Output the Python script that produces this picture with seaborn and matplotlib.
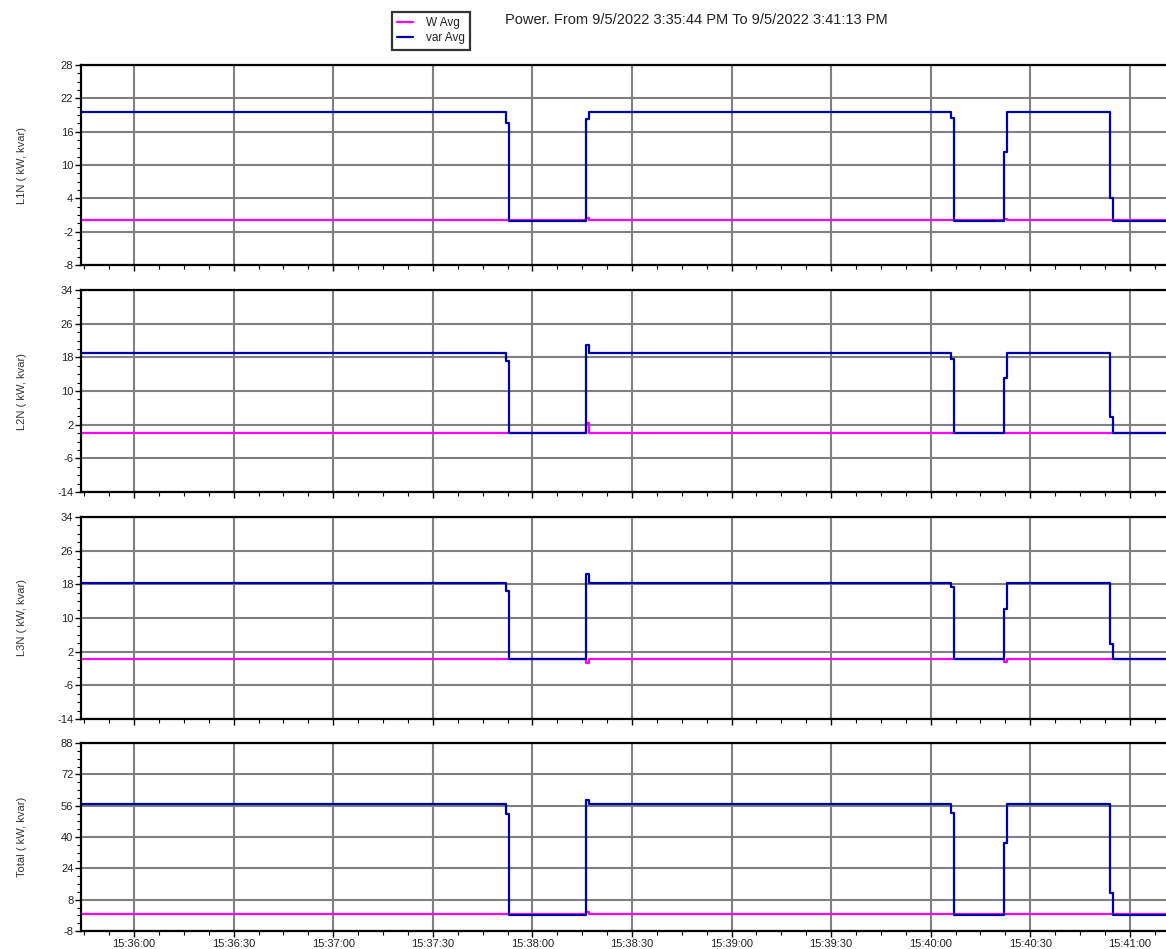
import matplotlib
matplotlib.use("Agg")
import matplotlib.pyplot as plt
import matplotlib.dates as mdates
from matplotlib.ticker import MultipleLocator, FixedLocator
import numpy as np
import pandas as pd
import seaborn as sns

# Sample times where the readings change (held until the next sample)
times = ["15:35:44", "15:37:52", "15:37:53", "15:38:16", "15:38:17", "15:40:06",
         "15:40:07", "15:40:22", "15:40:23", "15:40:54", "15:40:55", "15:41:13"]

# Reactive power (kvar) per phase and total
var_l1 = [19.5, 17.5, 0.0, 18.3, 19.5, 18.5, 0.0, 12.4, 19.5, 4.0, 0.0, 0.0]
var_l2 = [19.1, 17.2, 0.0, 20.9, 19.1, 17.5, 0.0, 13.1, 19.1, 3.8, 0.0, 0.0]
var_l3 = [18.4, 16.4, 0.2, 20.5, 18.4, 17.4, 0.2, 12.1, 18.4, 3.8, 0.2, 0.2]
var_tot = [56.8, 51.6, 0.0, 58.9, 57.0, 52.5, 0.0, 36.9, 57.0, 11.4, 0.0, 0.0]

# Active power (kW) per phase and total
w_l1 = [0.1, 0.1, 0.1, 0.4, 0.1, 0.1, 0.1, 0.3, 0.1, 0.1, 0.1, 0.1]
w_l2 = [0.0, 0.0, 0.0, 2.5, 0.0, 0.0, 0.0, 0.0, 0.0, 0.0, 0.0, 0.0]
w_l3 = [0.2, 0.2, 0.2, -0.8, 0.2, 0.2, 0.2, -0.4, 0.2, 0.2, 0.2, 0.2]
w_tot = [0.5, 0.5, 0.5, 1.9, 0.5, 0.5, 0.5, 0.5, 0.5, 0.5, 0.5, 0.5]

panel_names = ["L1N", "L2N", "L3N", "Total"]
series_labels = ["W Avg", "var Avg"]
y_limits = [(-8, 28), (-14, 34), (-14, 34), (-8, 88)]
y_steps = [6, 8, 8, 16]

title_text = "Power. From 9/5/2022 3:35:44 PM To 9/5/2022 3:41:13 PM"
date_str = "2022-09-05"

W, H = 1166, 949
sns.set_theme(style="white")
plt.rcParams["font.family"] = ["Liberation Sans", "DejaVu Sans"]
plt.rcParams["axes.unicode_minus"] = False

stamps = pd.to_datetime([f"{date_str} {t}" for t in times])
w_sets = [w_l1, w_l2, w_l3, w_tot]
var_sets = [var_l1, var_l2, var_l3, var_tot]

fig = plt.figure(figsize=(W / 100, H / 100), dpi=100)
fig.patch.set_facecolor("white")

# panel extents in pixels (top, bottom)
rows = [(65, 265), (290, 492), (517, 719), (743, 931)]
x_left, x_right = 81, 1173

palette = {"W Avg": "#ff00ff", "var Avg": "#0000a8"}
axes = []
for i, (name, (top, bot)) in enumerate(zip(panel_names, rows)):
    ax = fig.add_axes([x_left / W, 1 - bot / H, (x_right - x_left) / W, (bot - top) / H])
    axes.append(ax)
    df = pd.DataFrame({
        "time": list(stamps) * 2,
        "value": w_sets[i] + var_sets[i],
        "series": [series_labels[0]] * len(times) + [series_labels[1]] * len(times),
    })
    sns.lineplot(data=df, x="time", y="value", hue="series", hue_order=series_labels,
                 palette=palette, estimator=None, sort=False, drawstyle="steps-post",
                 linewidth=1.6, legend=False, ax=ax)
    lo, hi = y_limits[i]
    step = y_steps[i]
    ax.set_ylim(lo, hi)
    ax.yaxis.set_major_locator(FixedLocator(np.arange(lo, hi + 0.01, step)))
    ax.yaxis.set_minor_locator(FixedLocator(np.arange(lo, hi + 0.01, step / 4)))
    ax.set_xlim(stamps[0], stamps[-1])
    ax.xaxis.set_major_locator(MultipleLocator(30 / 86400))
    ax.xaxis.set_minor_locator(MultipleLocator(7.5 / 86400))
    ax.xaxis.set_major_formatter(mdates.DateFormatter("%H:%M:%S"))
    ax.grid(True, which="major", color="#808080", linewidth=1.5)
    ax.set_axisbelow(True)
    for side in ["left", "bottom", "top", "right"]:
        ax.spines[side].set_color("black")
        ax.spines[side].set_linewidth(1.6)
    ax.tick_params(which="major", direction="out", length=4, width=1.0, color="black",
                   labelsize=8, labelcolor="#222222", left=True, bottom=True, pad=1.5)
    ax.tick_params(which="minor", direction="out", length=3, width=0.8, color="black",
                   left=True, bottom=True)
    ax.set_xlabel("")
    ax.set_ylabel(f"{name} ( kW, kvar)", fontsize=8, color="#333333")
    ax.yaxis.set_label_coords(-0.0495, 0.5)
    if i < 3:
        ax.tick_params(axis="x", which="both", labelbottom=False)

# legend box and heading
handles = [plt.Line2D([], [], color=palette[s], linewidth=1.6) for s in series_labels]
leg = fig.legend(handles, series_labels, loc="upper left",
                 bbox_to_anchor=(392 / W, 1 - 12 / H), fontsize=8.5, frameon=True,
                 fancybox=False, handlelength=1.3, handletextpad=1.1,
                 borderpad=0.45, labelspacing=0.25, borderaxespad=0)
leg.get_frame().set_edgecolor("black")
leg.get_frame().set_linewidth(1.6)
for t in leg.get_texts():
    t.set_color("#222222")

fig.text(505 / W, 1 - 20 / H, title_text, fontsize=10.5, color="#222222",
         ha="left", va="center")

fig.savefig("out.png", dpi=100, facecolor="white")
